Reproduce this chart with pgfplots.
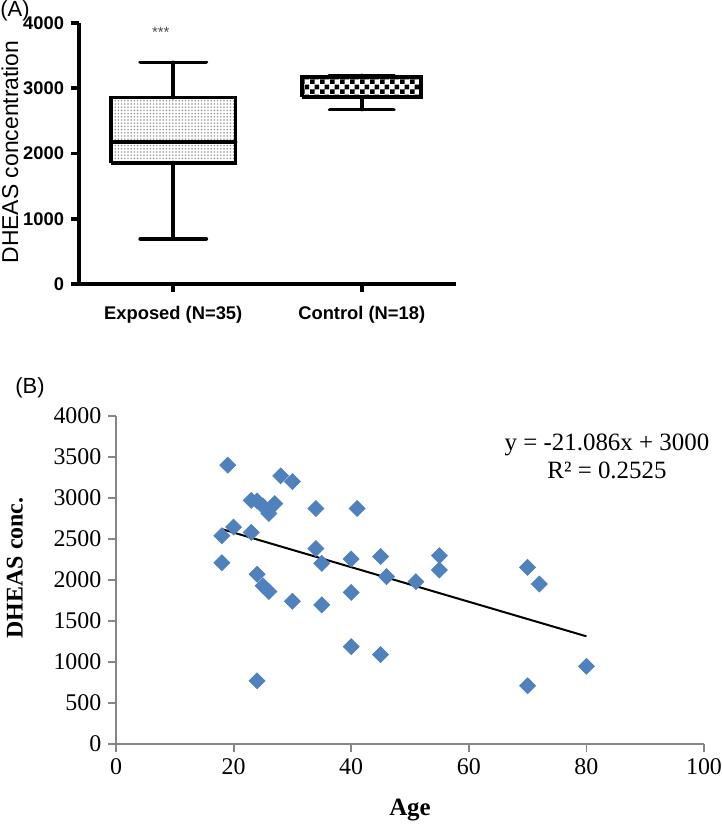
\documentclass[border=0pt]{standalone}
\usepackage{pgfplots}
\pgfplotsset{compat=1.18}
\usetikzlibrary{patterns}
\usepackage{fontspec}
\setmainfont{Liberation Serif}
\newfontfamily\arial{Liberation Sans}
\definecolor{exblue}{RGB}{79,129,189}
\definecolor{axgray}{RGB}{134,134,134}
\pgfdeclarepatternformonly{finedots}{\pgfqpoint{-0.6bp}{-0.6bp}}{\pgfqpoint{0.6bp}{0.6bp}}{\pgfqpoint{1.6bp}{1.6bp}}{\pgfpathcircle{\pgfpointorigin}{0.42bp}\pgfusepath{fill}}
\pgfdeclarepatternformonly{mychecker}{\pgfpointorigin}{\pgfqpoint{5bp}{5bp}}{\pgfqpoint{5bp}{5bp}}{\pgfpathrectangle{\pgfpointorigin}{\pgfqpoint{2.5bp}{2.5bp}}\pgfpathrectangle{\pgfqpoint{2.5bp}{2.5bp}}{\pgfqpoint{2.5bp}{2.5bp}}\pgfusepath{fill}}
\tikzset{bx/.style={black, solid, line width=1.9bp, line cap=round, mark=none}}
\begin{document}
\begin{tikzpicture}
\useasboundingbox (0,0) rectangle (361bp,412bp);
% ---------- Panel A ----------
\begin{axis}[
  at={(39.5bp,270bp)}, anchor=south west, scale only axis,
  width=188.5bp, height=130.5bp,
  xmin=0.5, xmax=2.5, ymin=0, ymax=4000,
  axis lines*=left,
  axis line style={line width=1.8bp, black},
  tick style={line width=1.8bp, black},
  tick align=outside, major tick length=4bp,
  xtick={1,2}, xticklabels={Exposed (N=35), Control (N=18)},
  ytick={0,1000,2000,3000,4000},
  scaled y ticks=false,
  /pgf/number format/1000 sep={},
  /pgf/number format/assume math mode=true,
  tick label style={font=\arial\bfseries\fontsize{9.2}{10}\selectfont},
  xticklabel style={yshift=-3.5bp},
  ylabel={DHEAS concentration},
  ylabel style={font=\arial\fontsize{11.5}{12}\selectfont, at={(axis description cs:-0.183,0.506)}, anchor=center},
  clip=false,
]
% Exposed: min 692, Q1 1860, median 2182, Q3 2858, max 3396
\addplot[bx, pattern=finedots, pattern color=gray!90, line join=miter, line cap=butt] coordinates {(0.67,1860) (1.33,1860) (1.33,2858) (0.67,2858) (0.67,1860)};
\addplot[bx] coordinates {(0.67,2182) (1.33,2182)};
\addplot[bx] coordinates {(1,2858) (1,3396)};
\addplot[bx] coordinates {(0.825,3396) (1.175,3396)};
\addplot[bx] coordinates {(1,1860) (1,692)};
\addplot[bx] coordinates {(0.825,692) (1.175,692)};
% Control: min 2674, Q1 2860, median 3165, Q3 3170, max 3196
\addplot[bx, pattern=mychecker, pattern color=black, line join=miter, line cap=butt] coordinates {(1.685,2860) (2.315,2860) (2.315,3170) (1.685,3170) (1.685,2860)};
\addplot[bx] coordinates {(1.685,3165) (2.315,3165)};
\addplot[bx] coordinates {(2,3170) (2,3196)};
\addplot[bx] coordinates {(1.83,3196) (2.17,3196)};
\addplot[bx] coordinates {(2,2860) (2,2674)};
\addplot[bx] coordinates {(1.83,2674) (2.17,2674)};
\node[text=gray!60!black, font=\arial\fontsize{7.5}{8}\selectfont] at (axis cs:0.934,3860) {***};
\end{axis}
\node[font=\arial\fontsize{11}{12}\selectfont, anchor=north west, inner sep=0pt] at (0bp,412bp) {(A)};
% ---------- Panel B ----------
\begin{axis}[
  at={(58bp,40bp)}, anchor=south west, scale only axis,
  width=294bp, height=164bp,
  xmin=0, xmax=100, ymin=0, ymax=4000,
  axis lines*=left,
  axis line style={axgray, line width=0.9bp},
  tick style={axgray, line width=0.9bp},
  tick align=outside, major tick length=3.8bp,
  xtick={0,20,40,60,80,100},
  ytick={0,500,1000,1500,2000,2500,3000,3500,4000},
  scaled y ticks=false,
  /pgf/number format/1000 sep={},
  /pgf/number format/assume math mode=true,
  tick label style={font=\fontsize{12}{13}\selectfont, black},
  xlabel={Age},
  xlabel style={font=\bfseries\fontsize{12.5}{13}\selectfont, at={(axis description cs:0.5,-0.2)}, anchor=center},
  ylabel={DHEAS conc.},
  ylabel style={font=\bfseries\fontsize{12}{13}\selectfont, at={(axis description cs:-0.172,0.537)}, anchor=center},
  clip=false,
]
\addplot[only marks, mark=square*, mark size=2.8bp,
  mark options={rotate=45, fill=exblue, draw=exblue}] coordinates {
(18,2540) (18,2210) (19,3400) (20,2645) (23,2970) (23,2580) (24,2965) (24,2070)
(24,770) (25,2900) (25,1930) (26,2812) (26,1860) (27,2932) (28,3270) (30,3200)
(30,1740) (34,2872) (34,2384) (35,2203) (35,1696) (40,2256) (40,1848) (40,1187)
(41,2872) (45,2286) (45,1090) (46,2041) (51,1980) (55,2297) (55,2122) (70,2154)
(70,710) (72,1951) (80,947)
};
\addplot[black, line width=1bp, mark=none] coordinates {(18,2620.45) (80,1313.12)};
\node[align=center, font=\fontsize{12.5}{14}\selectfont] at (axis cs:83.5,3512) {y = -21.086x + 3000\\R² = 0.2525};
\end{axis}
\node[font=\arial\fontsize{11}{12}\selectfont, anchor=center, inner sep=0pt] at (15bp,218bp) {(B)};
\end{tikzpicture}
\end{document}
